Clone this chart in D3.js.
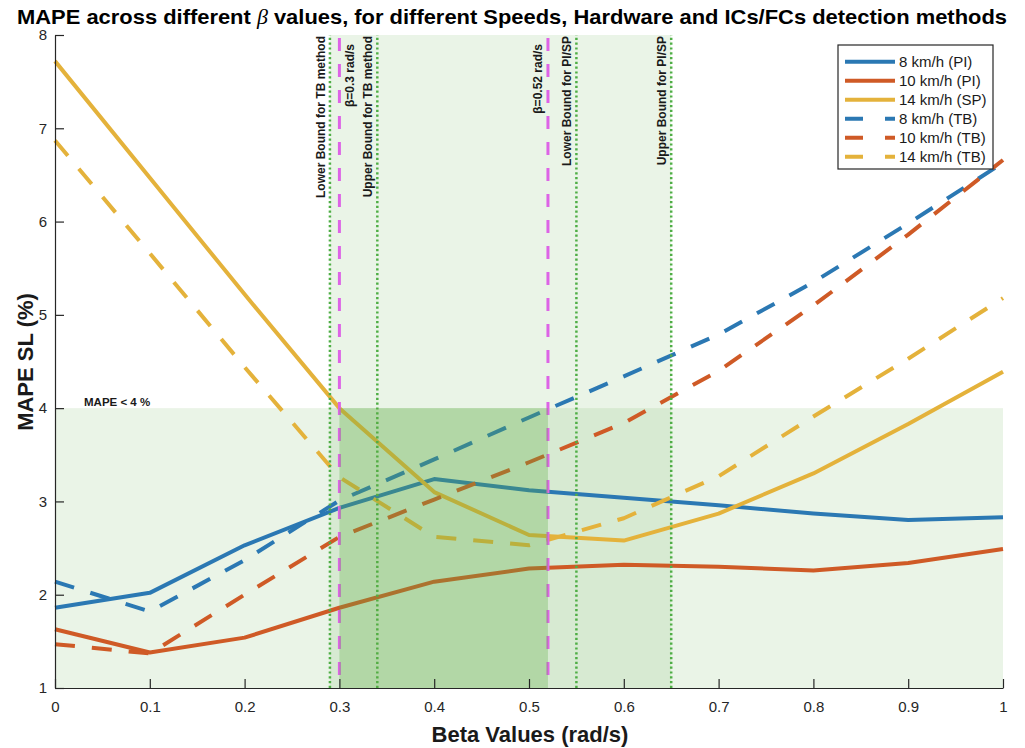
<!DOCTYPE html>
<html>
<head>
<meta charset="utf-8">
<script src="https://cdn.jsdelivr.net/npm/d3@7"></script>
<style>
  html, body { margin: 0; padding: 0; background: #fff; }
  svg { display: block; font-family: "Liberation Sans", Arial, Helvetica, sans-serif; }
</style>
</head>
<body>
<svg id="chart" width="1025" height="748"></svg>
<script>
// Beta values on the x axis (rad/s)
const betaValues = [0, 0.1, 0.2, 0.3, 0.4, 0.5, 0.6, 0.7, 0.8, 0.9, 1.0];

// MAPE of step length (%) per speed / detection method
const mape8PI   = [1.86, 2.02, 2.53, 2.93, 3.24, 3.12, 3.04, 2.96, 2.87, 2.80, 2.83];
const mape10PI  = [1.63, 1.38, 1.54, 1.86, 2.14, 2.28, 2.32, 2.30, 2.26, 2.34, 2.49];
const mape14SP  = [7.72, 6.47, 5.22, 4.00, 3.10, 2.64, 2.58, 2.87, 3.30, 3.83, 4.39];
const mape8TB   = [2.14, 1.82, 2.37, 3.01, 3.45, 3.90, 4.34, 4.79, 5.35, 5.98, 6.63];
const mape10TB  = [1.47, 1.37, 2.00, 2.62, 3.02, 3.42, 3.84, 4.40, 5.10, 5.86, 6.66];
const mape14TB  = [6.87, 5.66, 4.44, 3.26, 2.62, 2.53, 2.82, 3.27, 3.91, 4.53, 5.18];

const seriesNames = ["8 km/h (PI)", "10 km/h (PI)", "14 km/h (SP)", "8 km/h (TB)", "10 km/h (TB)", "14 km/h (TB)"];

// Tick values
const xTicks = [0, 0.1, 0.2, 0.3, 0.4, 0.5, 0.6, 0.7, 0.8, 0.9, 1];
const xTickLabels = ["0", "0.1", "0.2", "0.3", "0.4", "0.5", "0.6", "0.7", "0.8", "0.9", "1"];
const yTicks = [1, 2, 3, 4, 5, 6, 7, 8];
const yTickLabels = ["1", "2", "3", "4", "5", "6", "7", "8"];

// Reference lines and bands
const boundLines = [0.29, 0.34, 0.55, 0.65];
const boundLabels = ["Lower Bound for TB method", "Upper Bound for TB method", "Lower Bound for PI/SP", "Upper Bound for PI/SP"];
const betaLines = [0.3, 0.52];
const betaLabels = ["β=0.3 rad/s", "β=0.52 rad/s"];
const mapeThreshold = 4;
const boundBand = [0.29, 0.65];
const optimalBand = [0.3, 0.52];

const series = [
  { name: seriesNames[0], values: mape8PI,  color: "#2b78b3", dashed: false },
  { name: seriesNames[1], values: mape10PI, color: "#cf5a26", dashed: false },
  { name: seriesNames[2], values: mape14SP, color: "#e4b23b", dashed: false },
  { name: seriesNames[3], values: mape8TB,  color: "#2b78b3", dashed: true },
  { name: seriesNames[4], values: mape10TB, color: "#cf5a26", dashed: true },
  { name: seriesNames[5], values: mape14TB, color: "#e4b23b", dashed: true }
];

const svg = d3.select("#chart");
const axisColor = "#262626";

const x = d3.scaleLinear().domain([0, 1]).range([55, 1003]);
const y = d3.scaleLinear().domain([1, 8]).range([688, 35]);

// Background shading
const bandFill = "#5aac44";
svg.append("rect")
  .attr("x", x(0)).attr("y", y(mapeThreshold))
  .attr("width", x(1) - x(0)).attr("height", y(1) - y(mapeThreshold))
  .attr("fill", bandFill).attr("fill-opacity", 0.13);
svg.append("rect")
  .attr("x", x(boundBand[0])).attr("y", y(8))
  .attr("width", x(boundBand[1]) - x(boundBand[0])).attr("height", y(1) - y(8))
  .attr("fill", bandFill).attr("fill-opacity", 0.13);

// Data lines
const line = d3.line()
  .x((d, i) => x(betaValues[i]))
  .y(d => y(d));

svg.append("g").selectAll("path")
  .data(series)
  .join("path")
  .attr("d", d => line(d.values))
  .attr("fill", "none")
  .attr("stroke", d => d.color)
  .attr("stroke-width", 4)
  .attr("stroke-linejoin", "round")
  .attr("stroke-dasharray", d => d.dashed ? "20,17" : null);

// Vertical bound lines (dotted green)
svg.append("g").selectAll("line")
  .data(boundLines)
  .join("line")
  .attr("x1", d => x(d)).attr("x2", d => x(d))
  .attr("y1", y(1)).attr("y2", y(8))
  .attr("stroke", "#4fae45")
  .attr("stroke-width", 2.5)
  .attr("stroke-dasharray", "2.2,2.6");

// Vertical beta lines (dashed magenta)
svg.append("g").selectAll("line")
  .data(betaLines)
  .join("line")
  .attr("x1", d => x(d)).attr("x2", d => x(d))
  .attr("y1", y(8) + 3).attr("y2", y(1))
  .attr("stroke", "#dd63e6")
  .attr("stroke-width", 3)
  .attr("stroke-dasharray", "13,13");

// Optimal region overlay
svg.append("rect")
  .attr("x", x(optimalBand[0])).attr("y", y(mapeThreshold))
  .attr("width", x(optimalBand[1]) - x(optimalBand[0])).attr("height", y(1) - y(mapeThreshold))
  .attr("fill", "rgb(92,172,67)").attr("fill-opacity", 0.3);

// Axes
const xAxis = d3.axisBottom(x)
  .tickValues(xTicks)
  .tickFormat((d, i) => xTickLabels[i])
  .tickSizeInner(-9).tickSizeOuter(0).tickPadding(13);
const yAxis = d3.axisLeft(y)
  .tickValues(yTicks)
  .tickFormat((d, i) => yTickLabels[i])
  .tickSizeInner(-9).tickSizeOuter(0).tickPadding(8);

const gx = svg.append("g").attr("transform", `translate(0,${y(1)})`).call(xAxis);
const gy = svg.append("g").attr("transform", `translate(${x(0)},0)`).call(yAxis);
[gx, gy].forEach(g => {
  g.select(".domain").attr("stroke", axisColor).attr("stroke-width", 1.2);
  g.selectAll(".tick line").attr("stroke", axisColor).attr("stroke-width", 1.2);
  g.selectAll(".tick text")
    .attr("fill", axisColor)
    .attr("font-size", 15)
    .attr("font-family", "Liberation Sans, Arial, sans-serif");
});

// Reference line labels (vertical text)
const labelStyle = sel => sel
  .attr("font-size", 12)
  .attr("font-weight", "bold")
  .attr("fill", "#1a1a1a")
  .attr("text-anchor", "end");

boundLines.forEach((b, i) => {
  svg.append("text")
    .call(labelStyle)
    .attr("transform", `translate(${x(b) - 5},${36}) rotate(-90)`)
    .text(boundLabels[i]);
});
svg.append("text")
  .call(labelStyle)
  .attr("transform", `translate(${x(betaLines[0]) + 15},${44}) rotate(-90)`)
  .text(betaLabels[0]);
svg.append("text")
  .call(labelStyle)
  .attr("transform", `translate(${x(betaLines[1]) - 6},${44}) rotate(-90)`)
  .text(betaLabels[1]);

// Threshold label
svg.append("text")
  .attr("x", 84).attr("y", 406)
  .attr("font-size", 11.5).attr("font-weight", "bold").attr("fill", "#1a1a1a")
  .text("MAPE < 4 %");

// Axis titles
svg.append("text")
  .attr("x", 530).attr("y", 742)
  .attr("text-anchor", "middle")
  .attr("font-size", 22).attr("font-weight", "bold").attr("fill", "#1a1a1a")
  .text("Beta Values (rad/s)");
svg.append("text")
  .attr("transform", `translate(33,${362}) rotate(-90)`)
  .attr("text-anchor", "middle")
  .attr("font-size", 22).attr("font-weight", "bold").attr("fill", "#1a1a1a")
  .text("MAPE SL (%)");

// Title
const title = svg.append("text")
  .attr("x", 17).attr("y", 24)
  .attr("font-size", 21).attr("font-weight", "bold").attr("fill", "#000")
  .attr("textLength", 990).attr("lengthAdjust", "spacingAndGlyphs");
title.append("tspan").text("MAPE across different ");
title.append("tspan")
  .attr("font-style", "italic").attr("font-weight", "normal")
  .attr("font-family", "Liberation Serif, DejaVu Serif, serif")
  .text("β");
title.append("tspan").text(" values, for different Speeds, Hardware and ICs/FCs detection methods");

// Legend
const legend = svg.append("g");
legend.append("rect")
  .attr("x", 838).attr("y", 45).attr("width", 155).attr("height", 124)
  .attr("fill", "#fff").attr("stroke", axisColor).attr("stroke-width", 1.2);
const rows = legend.selectAll("g.row")
  .data(series)
  .join("g")
  .attr("class", "row")
  .attr("transform", (d, i) => `translate(0,${61.7 + i * 19})`);
rows.append("line")
  .attr("x1", 845).attr("x2", 895)
  .attr("stroke", d => d.color)
  .attr("stroke-width", 4)
  .attr("stroke-dasharray", d => d.dashed ? "18,22" : null);
rows.append("text")
  .attr("x", 899).attr("dy", "0.35em")
  .attr("font-size", 15).attr("fill", "#1a1a1a")
  .text(d => d.name);
</script>
</body>
</html>
